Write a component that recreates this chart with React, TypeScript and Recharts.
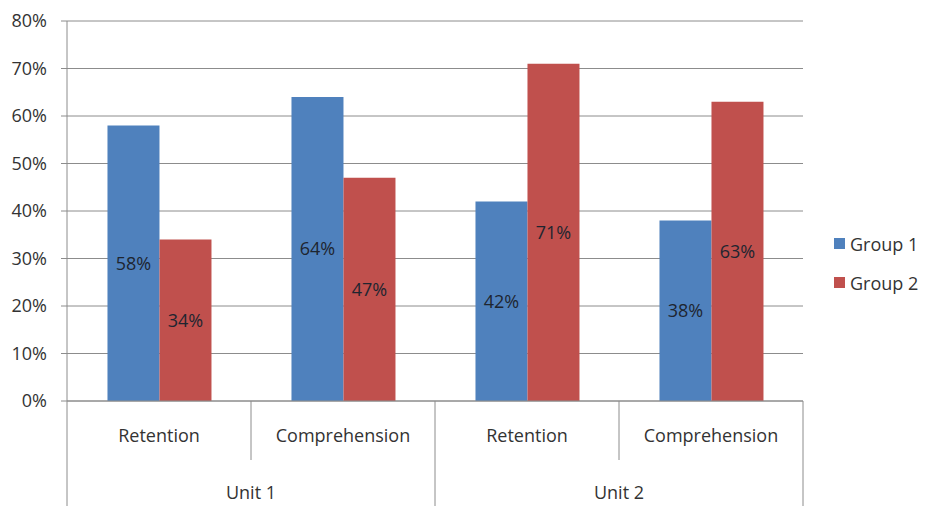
import { BarChart, Bar, XAxis, YAxis, CartesianGrid, Legend, LabelList } from 'recharts';

// Valeurs
const categories = ['Retention', 'Comprehension', 'Retention', 'Comprehension'];
const units = ['Unit 1', 'Unit 1', 'Unit 2', 'Unit 2'];
const group1 = [58, 64, 42, 38];
const group2 = [34, 47, 71, 63];
const yTicks = [0, 10, 20, 30, 40, 50, 60, 70, 80];

const series = [
  { key: 'g1', name: 'Group 1', color: '#4F81BD' },
  { key: 'g2', name: 'Group 2', color: '#C0504D' },
];

const data = categories.map((c, i) => ({
  category: c,
  unit: units[i],
  g1: group1[i],
  g2: group2[i],
}));

const W = 925;
const H = 506;
const FONT = '"Open Sans", "Liberation Sans", sans-serif';
const FS = 18;
const AXIS_GREY = '#8C8C8C';
const TEXT = '#333333';
const CAT_H = 59;
const UNIT_H = 46;
const PLOT_W = 736;
const LEGEND_W = 91;

const CategoryTick = (props: any) => {
  const { x, y, payload, index } = props;
  const half = payload?.offset || PLOT_W / categories.length / 2;
  const left = x - half;
  const right = x + half;
  const isLast = index === categories.length - 1;
  return (
    <g>
      <line x1={left} x2={left} y1={y} y2={index % 2 === 0 ? H : y + CAT_H} stroke={AXIS_GREY} />
      {isLast && <line x1={right} x2={right} y1={y} y2={H} stroke={AXIS_GREY} />}
      <text x={x} y={y + 41} textAnchor="middle" fill={TEXT} fontSize={FS} fontFamily={FONT}>
        {payload.value}
      </text>
    </g>
  );
};

const UnitTick = (props: any) => {
  const { x, y, payload } = props;
  return (
    <text x={x} y={y + 39} textAnchor="middle" fill={TEXT} fontSize={FS} fontFamily={FONT}>
      {payload.value}
    </text>
  );
};

const LegendContent = () => (
  <div style={{ fontFamily: FONT, fontSize: FS, color: TEXT }}>
    {series.map((s) => (
      <div key={s.key} style={{ display: 'flex', alignItems: 'center', height: 39 }}>
        <span style={{ display: 'inline-block', width: 11, height: 11, background: s.color, marginRight: 5 }} />
        {s.name}
      </div>
    ))}
  </div>
);

export default function App() {
  return (
    <>
      <style>{'body{margin:0}'}</style>
      <BarChart
        width={W}
        height={H}
        data={data}
        margin={{ top: 21, right: 122 - LEGEND_W, bottom: 0, left: 0 }}
        barCategoryGap="22%"
        barGap={0}
      >
        <CartesianGrid vertical={false} stroke={AXIS_GREY} />
        <XAxis
          dataKey="category"
          height={CAT_H}
          tickSize={0}
          tickMargin={0}
          stroke={AXIS_GREY}
          tick={<CategoryTick />}
          interval={0}
        />
        <XAxis
          xAxisId="unit"
          dataKey="unit"
          allowDuplicatedCategory={false}
          height={UNIT_H}
          axisLine={false}
          tickLine={false}
          tickSize={0}
          tickMargin={0}
          tick={<UnitTick />}
          interval={0}
        />
        <YAxis
          width={67}
          domain={[0, 80]}
          ticks={yTicks}
          tickFormatter={(v) => `${v}%`}
          stroke={AXIS_GREY}
          tickSize={6}
          tickMargin={14}
          tick={{ fill: TEXT, fontSize: FS, fontFamily: FONT }}
          interval={0}
        />
        <Legend
          layout="horizontal"
          verticalAlign="middle"
          align="right"
          content={<LegendContent />}
          wrapperStyle={{ left: 834, right: 'auto', top: 224, width: LEGEND_W }}
        />
        {series.map((s) => (
          <Bar key={s.key} dataKey={s.key} name={s.name} fill={s.color} isAnimationActive={false}>
            <LabelList
              dataKey={s.key}
              position="center"
              formatter={(v: any) => `${v}%`}
              fill="#1E2530"
              fontSize={FS}
              fontFamily={FONT}
            />
          </Bar>
        ))}
      </BarChart>
    </>
  );
}
